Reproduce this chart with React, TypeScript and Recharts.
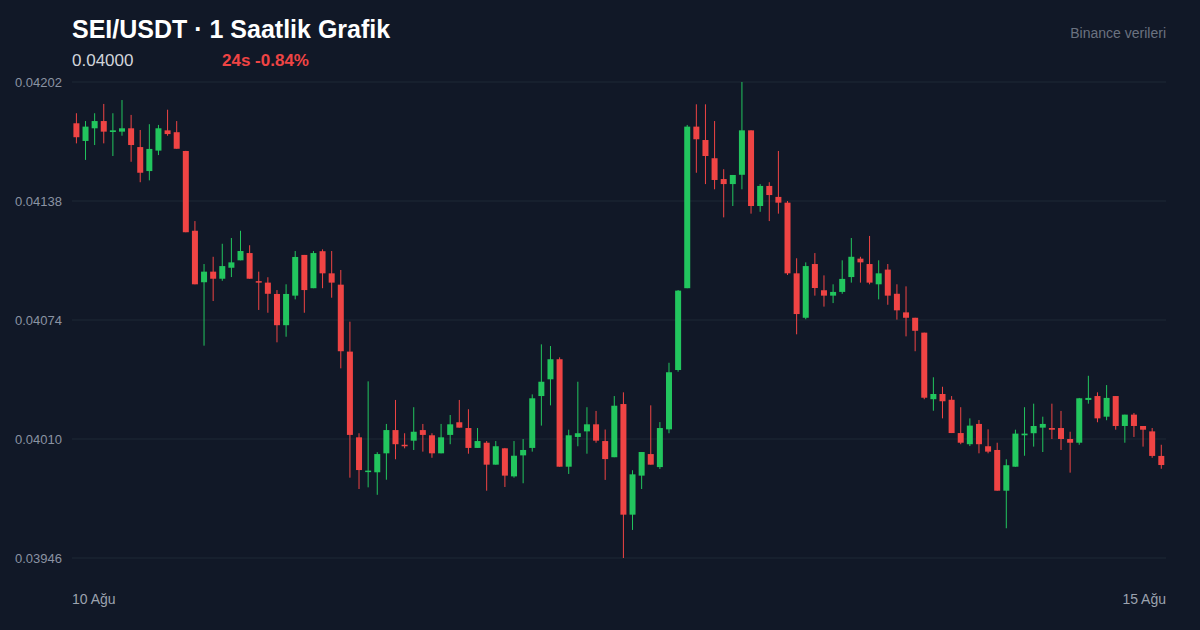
import React from "react";
import { ComposedChart, Bar, XAxis, YAxis, CartesianGrid } from "recharts";

const opens = [
  0.041798, 0.041703, 0.041771, 0.04181, 0.041751, 0.041753, 0.041771, 0.04167, 0.041541, 0.041651,
  0.04176, 0.04175, 0.041649, 0.04122, 0.040943, 0.041, 0.040962, 0.041021, 0.041061, 0.0411,
  0.040949, 0.040941, 0.04088, 0.040712, 0.040871, 0.04109, 0.040911, 0.04111, 0.040991, 0.04093,
  0.04057, 0.040109, 0.039923, 0.039921, 0.040023, 0.040148, 0.040069, 0.040091, 0.040148, 0.04012,
  0.040023, 0.040122, 0.04019, 0.040159, 0.040052, 0.04008, 0.039962, 0.04005, 0.039899, 0.040012,
  0.040052, 0.040331, 0.040421, 0.040529, 0.039951, 0.040111, 0.040141, 0.040179, 0.040089, 0.040002,
  0.040288, 0.039693, 0.039903, 0.040019, 0.039949, 0.040152, 0.040471, 0.040911, 0.04178, 0.041708,
  0.04161, 0.041498, 0.041471, 0.041521, 0.04176, 0.041353, 0.041461, 0.041402, 0.041371, 0.040991,
  0.040752, 0.041041, 0.0409, 0.040871, 0.040891, 0.040971, 0.04107, 0.041041, 0.040932, 0.041011,
  0.040881, 0.040781, 0.040752, 0.040672, 0.040314, 0.040342, 0.040311, 0.040132, 0.040072, 0.040181,
  0.040061, 0.040041, 0.039822, 0.039951, 0.04012, 0.040131, 0.040161, 0.040159, 0.040159, 0.0401,
  0.04008, 0.04031, 0.040331, 0.04022, 0.040331, 0.04017, 0.040231, 0.04017, 0.040141, 0.040009,
];
const highs = [
  0.041852, 0.04181, 0.041852, 0.041902, 0.041852, 0.041923, 0.041843, 0.041762, 0.041793, 0.041789,
  0.041871, 0.04181, 0.04165, 0.041272, 0.041041, 0.04108, 0.04115, 0.041181, 0.04122, 0.041142,
  0.041, 0.04097, 0.040901, 0.040932, 0.041111, 0.04109, 0.041111, 0.04112, 0.041111, 0.041009,
  0.040731, 0.040131, 0.04041, 0.040029, 0.040181, 0.04031, 0.040131, 0.040271, 0.040181, 0.040131,
  0.040181, 0.040229, 0.04031, 0.04026, 0.040159, 0.040089, 0.040089, 0.040052, 0.040089, 0.0401,
  0.04034, 0.040609, 0.0406, 0.040539, 0.04015, 0.040408, 0.040271, 0.040251, 0.040151, 0.040331,
  0.040351, 0.039932, 0.04003, 0.040281, 0.040191, 0.04051, 0.040901, 0.041789, 0.0419, 0.0419,
  0.04181, 0.041551, 0.04152, 0.04202, 0.04176, 0.041471, 0.041481, 0.041649, 0.04138, 0.041072,
  0.04105, 0.0411, 0.04098, 0.040932, 0.041061, 0.041181, 0.04108, 0.041192, 0.041061, 0.041041,
  0.040932, 0.040921, 0.040752, 0.040672, 0.040432, 0.040381, 0.040331, 0.040271, 0.040211, 0.040202,
  0.040152, 0.04008, 0.039991, 0.04015, 0.040271, 0.04029, 0.04022, 0.04029, 0.040251, 0.040139,
  0.040321, 0.04044, 0.040351, 0.04039, 0.040331, 0.040231, 0.04024, 0.04017, 0.040159, 0.040069,
];
const lows = [
  0.04169, 0.041601, 0.041681, 0.04169, 0.041622, 0.041731, 0.041591, 0.041481, 0.041491, 0.041627,
  0.041731, 0.041661, 0.041212, 0.040932, 0.040602, 0.040842, 0.040951, 0.040971, 0.041061, 0.040962,
  0.040794, 0.040779, 0.04062, 0.04065, 0.040851, 0.040779, 0.040911, 0.040911, 0.04086, 0.04048,
  0.039892, 0.039831, 0.03984, 0.0398, 0.039881, 0.039991, 0.04005, 0.040041, 0.040032, 0.039999,
  0.040023, 0.040072, 0.040161, 0.040021, 0.040052, 0.039822, 0.039962, 0.039842, 0.039892, 0.039862,
  0.040032, 0.040172, 0.040281, 0.039951, 0.039912, 0.040061, 0.040021, 0.04008, 0.03988, 0.040002,
  0.03946, 0.039611, 0.039831, 0.039962, 0.039939, 0.040131, 0.040462, 0.040911, 0.041532, 0.041471,
  0.041443, 0.041292, 0.041353, 0.041443, 0.041312, 0.041322, 0.041272, 0.041312, 0.040982, 0.040663,
  0.040744, 0.040871, 0.040812, 0.040831, 0.040881, 0.040941, 0.040941, 0.040932, 0.040851, 0.040822,
  0.040742, 0.040652, 0.040572, 0.040314, 0.040252, 0.040211, 0.040132, 0.040072, 0.040062, 0.040023,
  0.040023, 0.039822, 0.03962, 0.039951, 0.04001, 0.040059, 0.04003, 0.0401, 0.040041, 0.039919,
  0.040069, 0.04029, 0.04019, 0.040201, 0.04015, 0.04008, 0.040111, 0.040059, 0.039999, 0.03994,
];
const closes = [
  0.041723, 0.04178, 0.04181, 0.041753, 0.04176, 0.041771, 0.041681, 0.041532, 0.04166, 0.041771,
  0.04174, 0.041661, 0.041212, 0.040932, 0.041, 0.040962, 0.04103, 0.04105, 0.041111, 0.040962,
  0.040943, 0.040881, 0.040712, 0.04088, 0.041079, 0.040901, 0.0411, 0.040991, 0.040941, 0.040572,
  0.040122, 0.039933, 0.03993, 0.040019, 0.040148, 0.040072, 0.040063, 0.040139, 0.040122, 0.040023,
  0.040109, 0.040179, 0.040161, 0.040052, 0.040089, 0.039962, 0.040061, 0.039903, 0.04001, 0.040041,
  0.040319, 0.040408, 0.040529, 0.039951, 0.04012, 0.040131, 0.040179, 0.040091, 0.039992, 0.040279,
  0.039693, 0.03991, 0.04003, 0.039962, 0.040159, 0.040459, 0.040898, 0.04178, 0.041712, 0.041622,
  0.041493, 0.041471, 0.04152, 0.04176, 0.041353, 0.041461, 0.041412, 0.041371, 0.040991, 0.040772,
  0.04103, 0.040912, 0.040871, 0.040891, 0.040961, 0.04108, 0.04105, 0.040941, 0.040991, 0.040871,
  0.040792, 0.040752, 0.040682, 0.040322, 0.040342, 0.040303, 0.040132, 0.04008, 0.040172, 0.040072,
  0.040032, 0.039822, 0.039959, 0.040129, 0.040129, 0.04017, 0.040181, 0.04015, 0.0401, 0.04008,
  0.040319, 0.040321, 0.040211, 0.040321, 0.04017, 0.040231, 0.04017, 0.04015, 0.040009, 0.03996,
];

const yTicks = [0.03946, 0.0401, 0.04074, 0.04138, 0.04202];
const xTickLabels = ["10 Ağu", "15 Ağu"];

const title = "SEI/USDT · 1 Saatlik Grafik";
const lastPrice = "0.04000";
const change24h = "24s -0.84%";
const source = "Binance verileri";

const GREEN = "#22c55e";
const RED = "#ef4444";
const BG = "#111827";
const GRID = "#1f2937";
const FONT = '"Liberation Sans", Arial, Helvetica, sans-serif';

const data = opens.map((o, i) => ({
  idx: i,
  open: o,
  high: highs[i],
  low: lows[i],
  close: closes[i],
}));

const Candle = (props: any) => {
  const { x, y, width, height, payload } = props;
  if (!payload) return null;
  const { open, close, high, low } = payload;
  const top = Math.min(y, y + height);
  const h = Math.abs(height);
  const ratio = high - low > 0 ? h / (high - low) : 0;
  const cx = x + width / 2;
  const color = close >= open ? GREEN : RED;
  const bodyTop = top + (high - Math.max(open, close)) * ratio;
  const bodyBot = top + (high - Math.min(open, close)) * ratio;
  const bw = 6;
  return (
    <g>
      <line x1={cx} x2={cx} y1={top} y2={top + h} stroke={color} strokeWidth={1} />
      <rect
        x={cx - bw / 2}
        y={bodyTop}
        width={bw}
        height={Math.max(1.5, bodyBot - bodyTop)}
        fill={color}
      />
    </g>
  );
};

const XTick = (props: any) => {
  const { x, y, payload } = props;
  const first = payload.value === 0;
  const half = payload.offset != null && payload.offset > 0 ? payload.offset : 4.56;
  return (
    <text
      x={first ? x - half : x + half}
      y={y}
      dy={38}
      textAnchor={first ? "start" : "end"}
      fill="#9ca3af"
      fontSize={14}
      fontFamily={FONT}
    >
      {first ? xTickLabels[0] : xTickLabels[1]}
    </text>
  );
};

export default function App() {
  if (typeof document !== "undefined") {
    document.body.style.margin = "0";
    document.body.style.background = BG;
  }
  return (
    <div
      style={{
        position: "absolute",
        left: 0,
        top: 0,
        width: 1200,
        height: 630,
        background: BG,
        fontFamily: FONT,
        overflow: "hidden",
      }}
    >
      <ComposedChart
        width={1200}
        height={630}
        data={data}
        margin={{ top: 82, right: 34, bottom: 0, left: 0 }}
      >
        <CartesianGrid vertical={false} stroke={GRID} strokeWidth={1} />
        <XAxis
          dataKey="idx"
          type="category"
          ticks={[0, data.length - 1]}
          interval={0}
          axisLine={false}
          tickLine={false}
          height={72}
          tick={<XTick />}
        />
        <YAxis
          domain={[yTicks[0], yTicks[yTicks.length - 1]]}
          ticks={yTicks}
          allowDataOverflow
          width={72}
          axisLine={false}
          tickLine={false}
          tickMargin={4}
          tickFormatter={(v: number) => v.toFixed(5)}
          tick={{ fill: "#8b93a3", fontSize: 13, fontFamily: FONT }}
        />
        <Bar
          dataKey={(d: any) => [d.low, d.high]}
          shape={<Candle />}
          isAnimationActive={false}
        />
      </ComposedChart>
      <svg
        width={1200}
        height={630}
        style={{ position: "absolute", left: 0, top: 0, pointerEvents: "none" }}
      >
        <text x={72} y={38} fill="#ffffff" fontSize={25} fontWeight="bold" fontFamily={FONT}>
          {title}
        </text>
        <text x={72} y={66} fill="#d1d5db" fontSize={17} fontFamily={FONT}>
          {lastPrice}
        </text>
        <text x={222} y={66} fill={RED} fontSize={17} fontWeight="bold" fontFamily={FONT}>
          {change24h}
        </text>
        <text x={1166} y={38} fill="#6b7280" fontSize={14} textAnchor="end" fontFamily={FONT}>
          {source}
        </text>
      </svg>
    </div>
  );
}
